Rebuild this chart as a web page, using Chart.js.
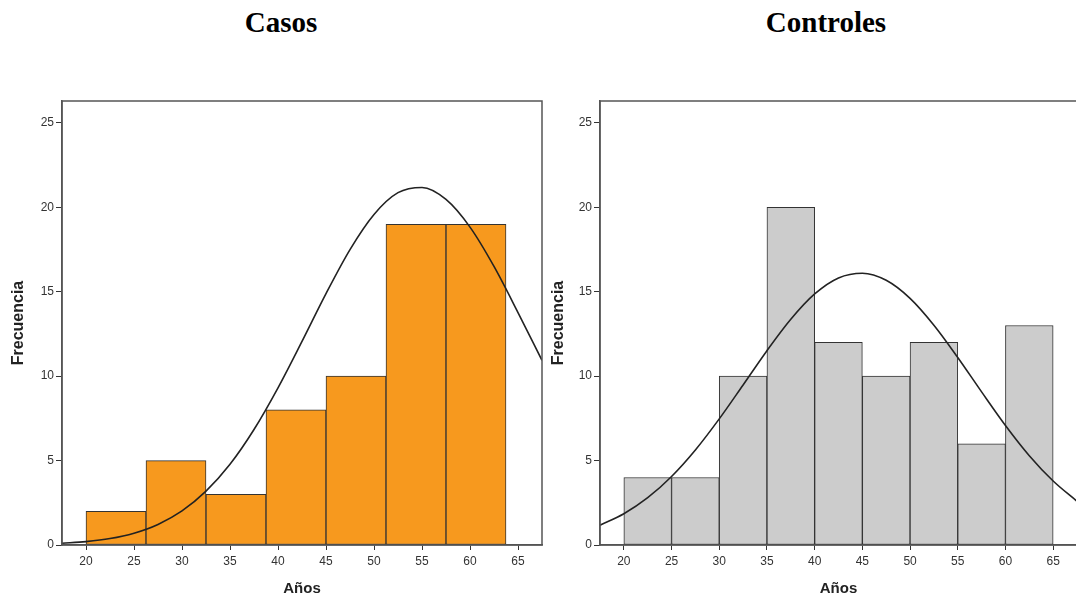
<!DOCTYPE html>
<html><head><meta charset="utf-8">
<script src="https://cdn.jsdelivr.net/npm/chart.js@4.4.1/dist/chart.umd.min.js"></script>
<style>
html,body{margin:0;padding:0;width:1076px;height:598px;overflow:hidden;background:#fff;}
.t{position:absolute;top:6px;line-height:32px;font-family:"Liberation Serif","Times New Roman",serif;font-weight:bold;font-size:29px;color:#000;transform:translateX(-50%);white-space:nowrap;}
.c{position:absolute;top:0;}
</style></head><body>
<div class="t" style="left:281px">Casos</div>
<div class="t" style="left:826px">Controles</div>
<div class="c" style="left:0px"><canvas id="a" width="560" height="598"></canvas></div>
<div class="c" style="left:540px"><canvas id="b" width="560" height="598"></canvas></div>
<script>
// ---- data ----
const casosEdges = [20, 26.25, 32.5, 38.75, 45, 51.25, 57.5, 63.75];
const casosCounts = [2, 5, 3, 8, 10, 19, 19];
const controlesEdges = [20, 25, 30, 35, 40, 45, 50, 55, 60, 65];
const controlesCounts = [4, 4, 10, 20, 12, 10, 12, 6, 13];
const curveX = [17.5, 20, 22.5, 25, 27.5, 30, 32.5, 35, 37.5, 40, 42.5, 45, 47.5, 50, 52.5, 55, 57.5, 60, 62.5, 65, 67.5];
const casosCurve = [0.10, 0.20, 0.38, 0.70, 1.22, 2.02, 3.19, 4.78, 6.84, 9.31, 12.06, 14.89, 17.50, 19.58, 20.87, 21.18, 20.47, 18.83, 16.50, 13.77, 10.94];
const controlesCurve = [1.17, 1.85, 2.80, 4.06, 5.63, 7.47, 9.48, 11.51, 13.37, 14.87, 15.82, 16.10, 15.68, 14.61, 13.02, 11.11, 9.07, 7.08, 5.29, 3.79, 2.59];
const xTicks = [20, 25, 30, 35, 40, 45, 50, 55, 60, 65];
const yTicks = [0, 5, 10, 15, 20, 25];
const xLabel = 'Años';
const yLabel = 'Frecuencia';

const boxPlugin = {
  id: 'box',
  afterDatasetsDraw(chart) {
    const a = chart.chartArea, ctx = chart.ctx;
    ctx.save();
    ctx.strokeStyle = '#555';
    ctx.lineWidth = 1.5;
    ctx.strokeRect(a.left, a.top, a.right - a.left, a.bottom - a.top);
    ctx.restore();
  }
};

function makeChart(id, edges, counts, curve, color, yWidth, padRight) {
  const bars = counts.map((c, i) => ({x: (edges[i] + edges[i + 1]) / 2, y: c}));
  const line = curveX.map((x, i) => ({x: x, y: curve[i]}));
  const tickFont = {family: '"Liberation Sans", Arial, sans-serif', size: 12};
  return new Chart(document.getElementById(id), {
    data: {
      datasets: [
        {type: 'line', data: line, borderColor: '#222', borderWidth: 1.6, pointRadius: 0,
         cubicInterpolationMode: 'monotone', fill: false, order: 0, xAxisID: 'x'},
        {type: 'bar', data: bars, backgroundColor: color, borderColor: '#333', borderWidth: 1,
         borderSkipped: false, barPercentage: 1, categoryPercentage: 1, grouped: false,
         order: 1, xAxisID: 'xb'}
      ]
    },
    options: {
      responsive: false,
      animation: false,
      events: [],
      layout: {padding: {left: 0, right: padRight, top: 101, bottom: 0}},
      plugins: {legend: {display: false}, tooltip: {enabled: false}, title: {display: false}},
      scales: {
        x: {
          type: 'linear', position: 'bottom', min: 17.5, max: 67.5, offset: false, weight: 1,
          afterBuildTicks: s => { s.ticks = xTicks.map(v => ({value: v})); },
          afterFit: s => { s.height = 53; },
          ticks: {font: tickFont, color: '#333', padding: 4, maxRotation: 0, autoSkip: false},
          grid: {offset: false, drawOnChartArea: false, drawTicks: true, tickLength: 5, color: '#333'},
          border: {display: true, color: '#555', width: 1.5},
          title: {display: true, text: xLabel, color: '#222',
                  font: {family: '"Liberation Sans", Arial, sans-serif', size: 15, weight: 'bold'},
                  padding: {top: 0, bottom: 0}}
        },
        xb: {
          type: 'linear', position: 'bottom', min: 17.5, max: 67.5, offset: false, weight: 2,
          afterBuildTicks: s => { s.ticks = edges.map(v => ({value: v})); },
          afterFit: s => { s.height = 0; },
          ticks: {display: false},
          grid: {display: false, offset: false},
          border: {display: false},
          title: {display: false}
        },
        y: {
          type: 'linear', min: 0, max: 26.3,
          afterBuildTicks: s => { s.ticks = yTicks.map(v => ({value: v})); },
          afterFit: s => { s.width = yWidth; },
          ticks: {font: tickFont, color: '#333', padding: 2},
          grid: {drawOnChartArea: false, drawTicks: true, tickLength: 6, color: '#333'},
          border: {display: true, color: '#555', width: 1.5},
          title: {display: true, text: yLabel, color: '#222',
                  font: {family: '"Liberation Sans", Arial, sans-serif', size: 16, weight: 'bold'},
                  padding: {top: 9, bottom: 0}}
        }
      }
    },
    plugins: [boxPlugin]
  });
}

makeChart('a', casosEdges, casosCounts, casosCurve, '#F7991E', 62, 18);
makeChart('b', controlesEdges, controlesCounts, controlesCurve, '#CCCCCC', 60, 23);
</script>
</body></html>
